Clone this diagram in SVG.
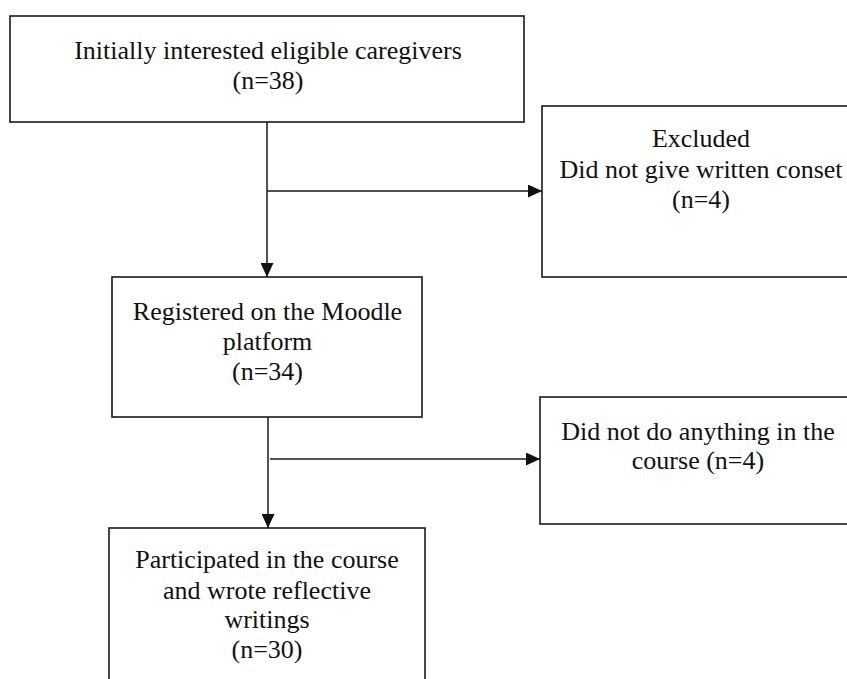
<svg xmlns="http://www.w3.org/2000/svg" width="847" height="679" viewBox="0 0 847 679">
<defs>
<style>
.box{fill:#fff;stroke:#1a1a1a;stroke-width:1.6}
.ln{fill:none;stroke:#1a1a1a;stroke-width:1.5}
text{font-family:"Liberation Serif","Times New Roman",serif;font-size:26px;fill:#111;text-anchor:middle}
</style>
<marker id="ah" viewBox="0 0 14 13" refX="14" refY="6.5" markerWidth="14" markerHeight="13" markerUnits="userSpaceOnUse" orient="auto">
<path d="M0,0 L14,6.5 L0,13 Z" fill="#111"/>
</marker>
</defs>
<rect width="847" height="679" fill="#fff"/>
<g id="connectors">
<line class="ln" x1="267" y1="122" x2="267" y2="277" marker-end="url(#ah)"/>
<line class="ln" x1="267" y1="191" x2="542" y2="191" marker-end="url(#ah)"/>
<line class="ln" x1="268" y1="417" x2="268" y2="528" marker-end="url(#ah)"/>
<line class="ln" x1="270" y1="459" x2="540" y2="459" marker-end="url(#ah)"/>
</g>
<g id="n1">
<rect class="box" x="10" y="16" width="514" height="106"/>
<text x="268" y="59">Initially interested eligible caregivers</text>
<text x="268" y="89">(n=38)</text>
</g>
<g id="n2">
<rect class="box" x="542" y="106" width="330" height="171"/>
<text x="701" y="147">Excluded</text>
<text x="701" y="178">Did not give written conset</text>
<text x="701" y="208">(n=4)</text>
</g>
<g id="n3">
<rect class="box" x="112" y="277" width="310" height="140"/>
<text x="267.5" y="320">Registered on the Moodle</text>
<text x="267.5" y="350">platform</text>
<text x="267.5" y="380">(n=34)</text>
</g>
<g id="n4">
<rect class="box" x="540" y="397" width="330" height="127"/>
<text x="698" y="440">Did not do anything in the</text>
<text x="698" y="469">course (n=4)</text>
</g>
<g id="n5">
<rect class="box" x="109" y="528" width="316" height="170"/>
<text x="267" y="568">Participated in the course</text>
<text x="267" y="599">and wrote reflective</text>
<text x="267" y="628">writings</text>
<text x="267" y="658">(n=30)</text>
</g>
</svg>
